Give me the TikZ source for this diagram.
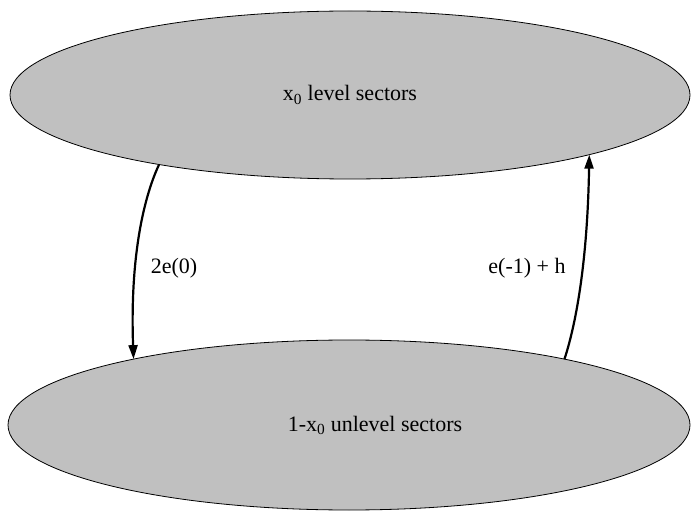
\documentclass[tikz,border=0pt]{standalone}
\usepackage{fontspec}
\setmainfont{Liberation Serif}
\usetikzlibrary{shapes.geometric,arrows.meta}

\definecolor{sectorgray}{HTML}{C0C0C0}

\begin{document}
\begin{tikzpicture}[
    x=1pt, y=1pt,
    font=\fontsize{22}{26}\selectfont,
    sector/.style={ellipse, draw=black, line width=0.8pt,
                   fill=sectorgray, inner sep=0pt, outer sep=0pt},
    flow/.style={line width=2.2pt,
                 -{Triangle[length=14pt,width=9pt]}},
]
\useasboundingbox (0,0) rectangle (691,512);

\node [sector, minimum width=680pt, minimum height=168pt] (level)
      at (350,417) {x\textsubscript{0} level sectors};
\node [sector, minimum width=682pt, minimum height=170pt,
       label={[xshift=26pt]center:1-x\textsubscript{0} unlevel sectors}] (unlevel)
      at (349,87) {};

% transitions between the two groups
\draw [flow] (level.200.6) to[out=245, in=92, out looseness=0.25,
                              in looseness=1.6] (unlevel.163.6);
\draw [flow] (unlevel.17.2) to[out=72, in=-91, out looseness=0.25,
                               in looseness=1.6] (level.346);

\node (down) at (174,244) {2e(0)};
\node (up)   at (527,244) {e(-1) + h};

\end{tikzpicture}
\end{document}
